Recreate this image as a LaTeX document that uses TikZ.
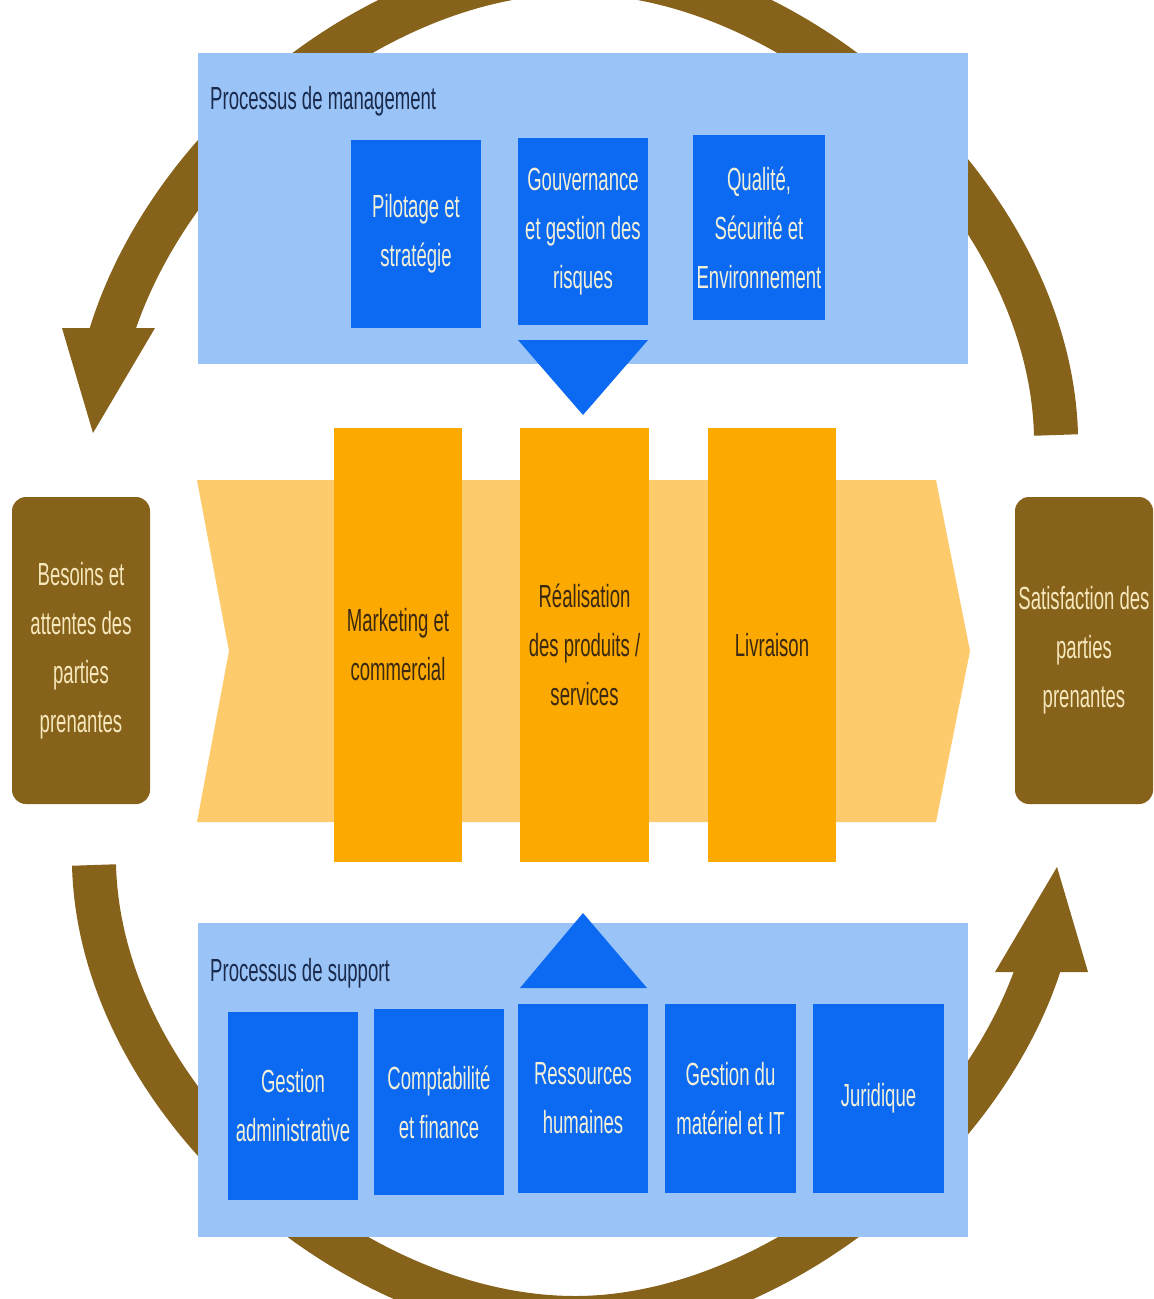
\documentclass[tikz,border=0pt]{standalone}
\usepackage{fontspec}
\setmainfont{Liberation Sans}
\newfontfamily\condfont[FakeStretch=0.58]{Liberation Sans}
\newcommand\diagfont{\condfont\fontsize{32}{49}\selectfont}
\definecolor{panelblue}{HTML}{9AC4F7}
\definecolor{boxblue}{HTML}{0B69F2}
\definecolor{bluetext}{HTML}{F2F0D8}
\definecolor{bandorange}{HTML}{FDCB6C}
\definecolor{boxorange}{HTML}{FCA902}
\definecolor{orangetext}{HTML}{3A2810}
\definecolor{brownc}{HTML}{86621A}
\definecolor{browntext}{HTML}{F6E7BC}
\definecolor{titlenavy}{HTML}{1A2A4C}
\begin{document}
\begin{tikzpicture}[x=1pt,y=-1pt,
  panel/.style={fill=panelblue, draw=none, inner sep=0pt},
  bbox/.style={fill=boxblue, draw=none, text=bluetext, font=\diagfont, align=center, inner sep=0pt},
  obox/.style={fill=boxorange, draw=none, text=orangetext, font=\diagfont, align=center, inner sep=0pt, minimum height=434pt},
  brbox/.style={fill=brownc, draw=none, text=browntext, font=\diagfont, align=center, inner sep=0pt, rounded corners=14pt, minimum width=138pt, minimum height=307pt},
  ptitle/.style={text=titlenavy, font=\diagfont, anchor=west, inner sep=0pt},
  ring/.style={draw=brownc, line width=44pt, line cap=butt},
  ringhead/.style={fill=brownc, draw=none},
  tri/.style={fill=boxblue, draw=none}]
\clip (0,0) rectangle (1154,1299);
\fill[white] (0,0) rectangle (1154,1299);
% ring arrows (top: right -> left, bottom: left -> right)
\coordinate (topR) at (1056,435);
\coordinate (topApex) at (575,-28);
\coordinate (topL) at (110,337);
\draw[ring] (topR) .. controls (1050,200) and (800,-28) .. (topApex)
            .. controls (381.5,-28) and (169.5,140.6) .. (topL);
\fill[ringhead] (62,328) -- (155,328) -- (93,433) -- cycle;
\coordinate (botL) at (94,865);
\coordinate (botApex) at (575,1318);
\coordinate (botR) at (1040,963);
\draw[ring] (botL) .. controls (100,1100) and (350,1318) .. (botApex)
            .. controls (768.5,1318) and (980.5,1149) .. (botR);
\fill[ringhead] (995,972) -- (1088,972) -- (1057,867) -- cycle;
% management panel
\node[panel, minimum width=770pt, minimum height=311pt] (mgmt) at (583,208.5) {};
\node[ptitle] (mgmttitle) at (210,101) {Processus de management};
\node[bbox, minimum width=130pt, minimum height=188pt] (pil) at (416,234) {Pilotage et\\stratégie};
\node[bbox, minimum width=130pt, minimum height=187pt] (gouv) at (583,231.5) {Gouvernance\\et gestion des\\risques};
\node[bbox, minimum width=132pt, minimum height=185pt] (qual) at (759,227.5) {Qualité,\\Sécurité et\\Environnement};
\fill[tri] (518,340) -- (648,340) -- (583,415) -- cycle;
% value band
\fill[bandorange] (197,480) -- (936,480) -- (970,651) -- (936,822) -- (197,822) -- (229,651) -- cycle;
\node[obox, minimum width=128pt] (mkt) at (398,645) {Marketing et\\commercial};
\node[obox, minimum width=129pt] (real) at (584.5,645) {Réalisation\\des produits /\\services};
\node[obox, minimum width=128pt] (liv) at (772,645) {Livraison};
% stakeholder boxes
\node[brbox] (besoins) at (81,650.5) {Besoins et\\attentes des\\parties\\prenantes};
\node[brbox] (satis) at (1084,650.5) {Satisfaction des\\parties\\prenantes};
% support panel
\node[panel, minimum width=770pt, minimum height=314pt] (supp) at (583,1080) {};
\fill[tri] (520,988) -- (647,988) -- (583,913) -- cycle;
\node[ptitle] (supptitle) at (210,973) {Processus de support};
\node[bbox, minimum width=130pt, minimum height=188pt] (ga) at (293,1106) {Gestion\\administrative};
\node[bbox, minimum width=130pt, minimum height=186pt] (cf) at (439,1102) {Comptabilité\\et finance};
\node[bbox, minimum width=130pt, minimum height=189pt] (rh) at (583,1098.5) {Ressources\\humaines};
\node[bbox, minimum width=131pt, minimum height=189pt] (gm) at (730.5,1098.5) {Gestion du\\matériel et IT};
\node[bbox, minimum width=131pt, minimum height=189pt] (ju) at (878.5,1098.5) {Juridique};
\end{tikzpicture}
\end{document}
